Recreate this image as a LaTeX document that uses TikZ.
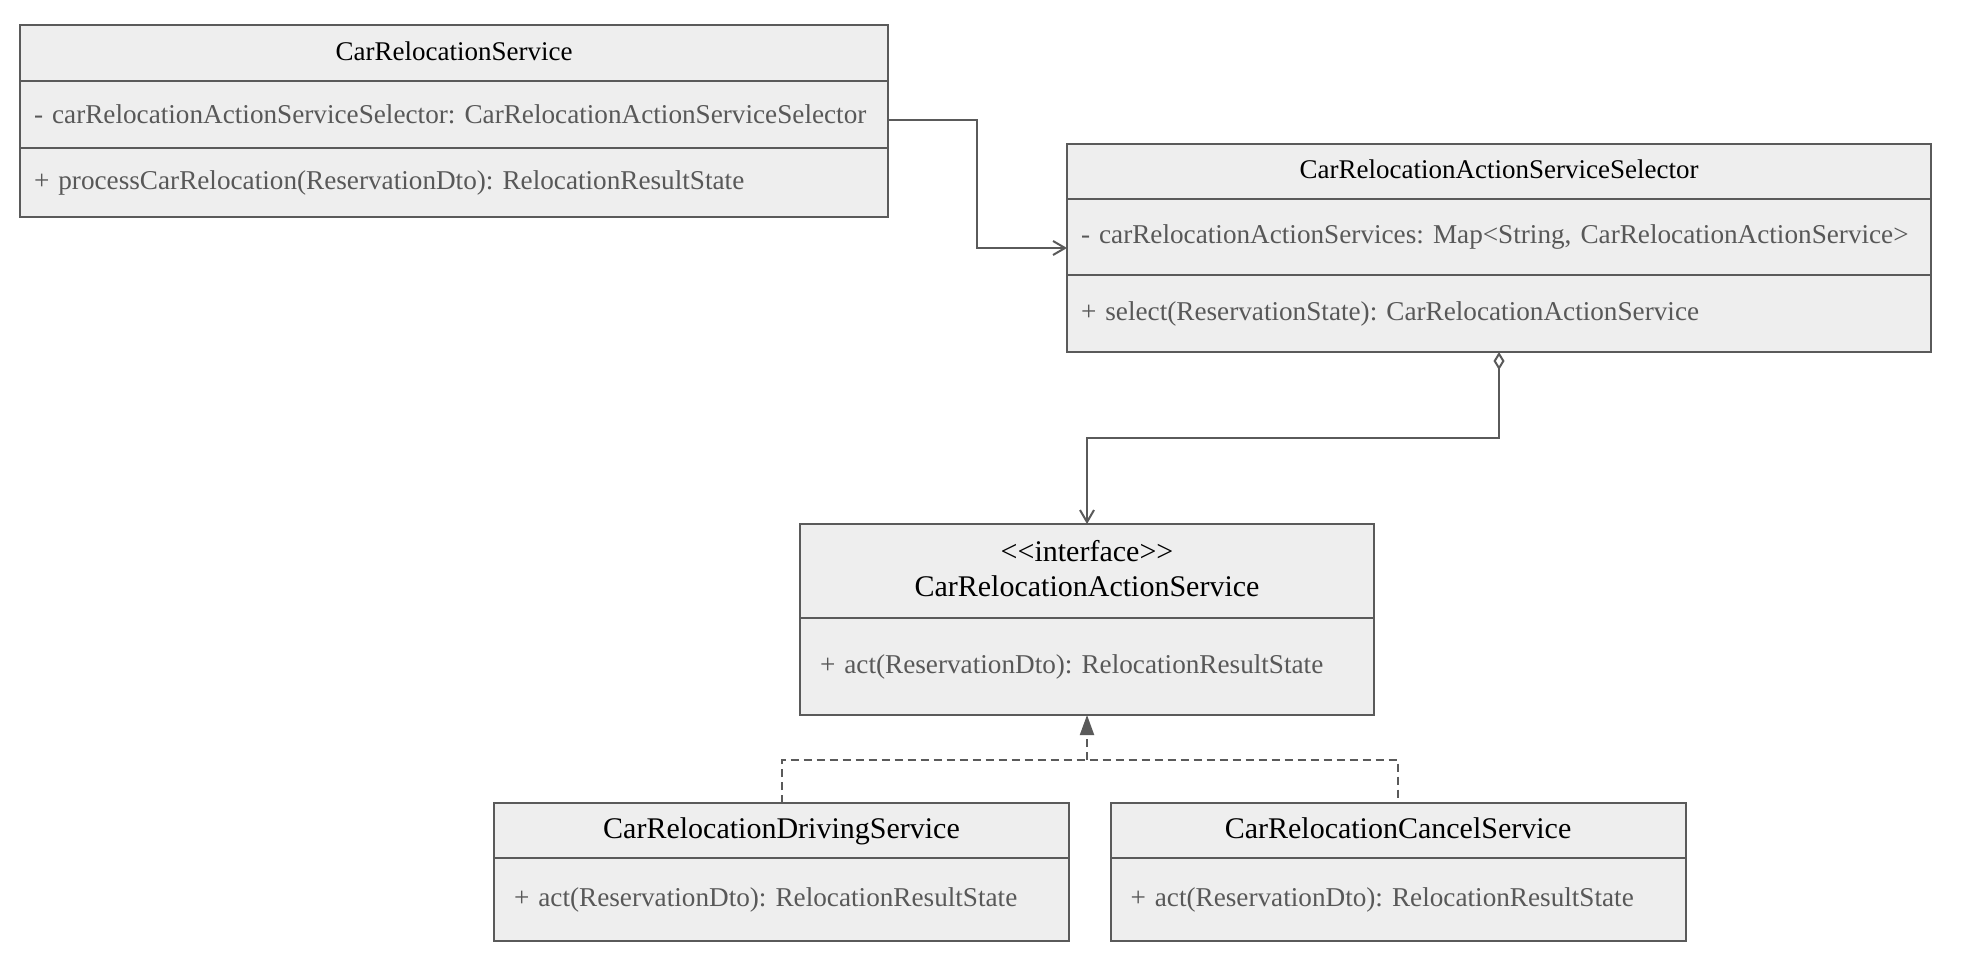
\documentclass[tikz,border=0pt]{standalone}
\usepackage{fontspec}
\setmainfont{Liberation Serif}
\usetikzlibrary{arrows.meta,positioning,calc}
\frenchspacing
\definecolor{umlfill}{RGB}{238,238,238}
\definecolor{umlline}{RGB}{90,90,90}
\definecolor{umltext}{RGB}{88,88,88}
\tikzset{
  part/.style={draw=umlline,fill=umlfill,line width=1pt,anchor=north,outer sep=0pt,inner sep=0pt},
  head/.style={part,minimum width=#1,align=center,text=black,text depth=0.22em,
    font=\fontsize{13.5}{16}\selectfont},
  bighead/.style={head=#1,font=\fontsize{15}{17.5}\selectfont},
  member/.style={part,text width=#1,inner xsep=7pt,align=left,text=umltext,
    font=\fontsize{13.6}{16}\selectfont},
  % connectors
  assoc/.style={draw=umlline,line width=1pt,-{Straight Barb[length=6pt,width=7pt]}},
  agg/.style={assoc,{Diamond[open,fill=white,length=9pt,width=5.5pt]}-{Straight Barb[length=6pt,width=7pt]}},
  real/.style={draw=umlline,line width=1pt,dash pattern=on 4pt off 2.5pt},
}
\begin{document}
\begin{tikzpicture}[x=0.5pt,y=-0.5pt]
  \useasboundingbox (0,0) rectangle (1962,978);
  % CarRelocationService
  \node[head=434pt,minimum height=28pt] (svc-h) at (454,25) {CarRelocationService};
  \node[member=420pt,minimum height=33.5pt,below=0pt of svc-h] (svc-a)
    {- carRelocationActionServiceSelector: CarRelocationActionServiceSelector};
  \node[member=420pt,minimum height=34.5pt,below=0pt of svc-a] (svc-m)
    {+ processCarRelocation(ReservationDto): RelocationResultState};
  % CarRelocationActionServiceSelector
  \node[head=432pt,minimum height=27.5pt] (sel-h) at (1499,144) {CarRelocationActionServiceSelector};
  \node[member=418pt,minimum height=38pt,below=0pt of sel-h] (sel-a)
    {- carRelocationActionServices: Map<String, CarRelocationActionService>};
  \node[member=418pt,minimum height=38.5pt,below=0pt of sel-a] (sel-m)
    {+ select(ReservationState): CarRelocationActionService};
  % interface
  \node[bighead=287pt,minimum height=47pt] (ifc-h) at (1087,524)
    {<{}<interface>{}>\\CarRelocationActionService};
  \node[member=267pt,inner xsep=10pt,minimum height=48.5pt,below=0pt of ifc-h] (ifc-m)
    {+ act(ReservationDto): RelocationResultState};
  % implementations
  \node[bighead=287.5pt,minimum height=27.5pt] (drv-h) at (781.5,803) {CarRelocationDrivingService};
  \node[member=267.5pt,inner xsep=10pt,minimum height=41.5pt,below=0pt of drv-h] (drv-m)
    {+ act(ReservationDto): RelocationResultState};
  \node[bighead=287.5pt,minimum height=27.5pt] (cnl-h) at (1398,803) {CarRelocationCancelService};
  \node[member=267.5pt,inner xsep=10pt,minimum height=41.5pt,below=0pt of cnl-h] (cnl-m)
    {+ act(ReservationDto): RelocationResultState};

  \draw[assoc] ([yshift=-3pt]svc-a.east) -- ++(89,0) |- ([yshift=-5.5pt]sel-a.west);
  \draw[agg] (sel-m.south) -- ++(0,86) -| (ifc-h.north);
  \path (drv-h.north) ++(0,-43) coordinate (drv-up);
  \draw[real] (drv-h.north) -- (drv-up) -| (cnl-h.north);
  \draw[real,-{Triangle[length=10pt,width=7pt]}] (drv-up -| ifc-m.south) -- (ifc-m.south);
\end{tikzpicture}
\end{document}
